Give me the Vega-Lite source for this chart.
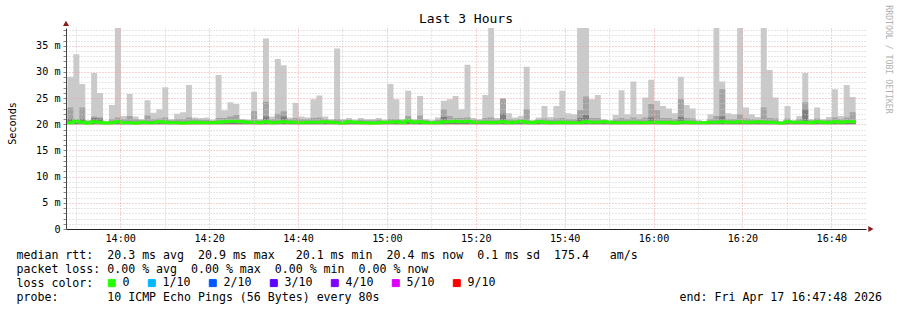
{
  "$schema": "https://vega.github.io/schema/vega-lite/v6.json",
  "width": 800,
  "height": 201,
  "autosize": {"type": "none"},
  "padding": {"left": 66, "top": 28, "right": 31, "bottom": 81},
  "background": "white",
  "config": {"view": {"stroke": null}, "font": "DejaVu Sans Mono"},
  "title": {"text": "Last 3 Hours", "font": "DejaVu Sans Mono", "fontSize": 13, "fontWeight": "normal", "color": "black", "anchor": "middle", "frame": "group", "baseline": "alphabetic", "offset": 0, "dy": 31},
  "datasets": {
    "smoke": [
      {"t":48.13,"lo":20.0,"hi":29.1,"mid":23.2,"dk":21.0,"med":20.3,"loss":"0"},
      {"t":49.47,"lo":20.0,"hi":33.4,"mid":21.0,"dk":20.8,"med":20.6,"loss":"0"},
      {"t":50.8,"lo":20.0,"hi":27.7,"mid":23.2,"dk":21.0,"med":20.4,"loss":"0"},
      {"t":52.13,"lo":20.0,"hi":20.8,"mid":20.7,"dk":20.4,"med":20.2,"loss":"0"},
      {"t":53.47,"lo":20.0,"hi":29.8,"mid":21.5,"dk":21.2,"med":20.5,"loss":"0"},
      {"t":54.8,"lo":20.0,"hi":26.0,"mid":21.3,"dk":21.1,"med":20.4,"loss":"0"},
      {"t":56.13,"lo":20.0,"hi":20.7,"mid":20.5,"dk":20.4,"med":20.2,"loss":"0"},
      {"t":57.47,"lo":20.0,"hi":23.7,"mid":21.0,"dk":20.5,"med":20.3,"loss":"0"},
      {"t":58.8,"lo":20.0,"hi":38.4,"mid":21.3,"dk":20.7,"med":20.5,"loss":"0"},
      {"t":60.13,"lo":20.0,"hi":21.6,"mid":21.0,"dk":20.5,"med":20.3,"loss":"0"},
      {"t":61.47,"lo":20.0,"hi":25.8,"mid":21.6,"dk":20.5,"med":20.3,"loss":"0"},
      {"t":62.8,"lo":20.0,"hi":21.5,"mid":21.0,"dk":20.4,"med":20.2,"loss":"0"},
      {"t":64.13,"lo":20.0,"hi":21.0,"mid":20.8,"dk":20.6,"med":20.4,"loss":"0"},
      {"t":65.47,"lo":20.0,"hi":24.6,"mid":21.7,"dk":20.5,"med":20.3,"loss":"0"},
      {"t":66.8,"lo":20.0,"hi":22.2,"mid":21.0,"dk":20.5,"med":20.3,"loss":"0"},
      {"t":68.13,"lo":20.0,"hi":22.9,"mid":21.1,"dk":20.7,"med":20.5,"loss":"0"},
      {"t":69.47,"lo":20.0,"hi":27.1,"mid":21.3,"dk":20.6,"med":20.4,"loss":"0"},
      {"t":70.8,"lo":20.0,"hi":21.0,"mid":20.8,"dk":20.5,"med":20.3,"loss":"0"},
      {"t":72.13,"lo":20.0,"hi":22.0,"mid":21.0,"dk":20.5,"med":20.3,"loss":"0"},
      {"t":73.47,"lo":20.0,"hi":22.3,"mid":21.0,"dk":20.4,"med":20.2,"loss":"0"},
      {"t":74.8,"lo":20.0,"hi":27.5,"mid":21.3,"dk":20.5,"med":20.3,"loss":"0"},
      {"t":76.13,"lo":20.0,"hi":21.3,"mid":21.0,"dk":20.6,"med":20.4,"loss":"0"},
      {"t":77.47,"lo":20.0,"hi":21.2,"mid":20.9,"dk":20.5,"med":20.3,"loss":"0"},
      {"t":78.8,"lo":20.0,"hi":21.3,"mid":20.9,"dk":20.5,"med":20.3,"loss":"0"},
      {"t":80.13,"lo":20.0,"hi":20.9,"mid":20.7,"dk":20.5,"med":20.3,"loss":"0"},
      {"t":81.47,"lo":20.0,"hi":29.4,"mid":21.2,"dk":20.6,"med":20.4,"loss":"0"},
      {"t":82.8,"lo":20.0,"hi":22.7,"mid":21.2,"dk":20.7,"med":20.5,"loss":"0"},
      {"t":84.13,"lo":20.0,"hi":24.2,"mid":21.5,"dk":20.8,"med":20.6,"loss":"0"},
      {"t":85.47,"lo":20.0,"hi":23.9,"mid":21.8,"dk":20.8,"med":20.6,"loss":"0"},
      {"t":86.8,"lo":20.0,"hi":21.0,"mid":20.9,"dk":20.7,"med":20.5,"loss":"0"},
      {"t":88.13,"lo":20.0,"hi":20.9,"mid":20.8,"dk":20.6,"med":20.4,"loss":"0"},
      {"t":89.47,"lo":20.0,"hi":26.2,"mid":22.5,"dk":20.6,"med":20.4,"loss":"0"},
      {"t":90.8,"lo":20.0,"hi":21.0,"mid":20.8,"dk":20.5,"med":20.3,"loss":"0"},
      {"t":92.13,"lo":20.0,"hi":36.4,"mid":24.3,"dk":21.5,"med":20.5,"loss":"0"},
      {"t":93.47,"lo":20.0,"hi":21.5,"mid":21.0,"dk":20.5,"med":20.3,"loss":"0"},
      {"t":94.8,"lo":20.0,"hi":32.5,"mid":22.0,"dk":20.6,"med":20.4,"loss":"0"},
      {"t":96.13,"lo":20.0,"hi":31.3,"mid":22.5,"dk":21.5,"med":20.5,"loss":"0"},
      {"t":97.47,"lo":20.0,"hi":21.3,"mid":21.0,"dk":20.6,"med":20.4,"loss":"0"},
      {"t":98.8,"lo":20.0,"hi":24.1,"mid":21.2,"dk":20.6,"med":20.4,"loss":"0"},
      {"t":100.13,"lo":20.0,"hi":21.5,"mid":21.0,"dk":20.5,"med":20.3,"loss":"0"},
      {"t":101.47,"lo":20.0,"hi":21.3,"mid":21.0,"dk":20.6,"med":20.4,"loss":"0"},
      {"t":102.8,"lo":20.0,"hi":24.8,"mid":21.2,"dk":20.6,"med":20.4,"loss":"0"},
      {"t":104.13,"lo":20.0,"hi":25.5,"mid":21.3,"dk":20.6,"med":20.4,"loss":"0"},
      {"t":105.47,"lo":20.0,"hi":21.5,"mid":21.0,"dk":20.7,"med":20.5,"loss":"0"},
      {"t":106.8,"lo":20.0,"hi":21.0,"mid":20.8,"dk":20.6,"med":20.4,"loss":"0"},
      {"t":108.13,"lo":20.0,"hi":34.5,"mid":21.0,"dk":20.5,"med":20.3,"loss":"0"},
      {"t":109.47,"lo":20.0,"hi":21.0,"mid":20.8,"dk":20.4,"med":20.2,"loss":"0"},
      {"t":110.8,"lo":20.0,"hi":21.2,"mid":20.9,"dk":20.7,"med":20.5,"loss":"0"},
      {"t":112.13,"lo":20.0,"hi":20.9,"mid":20.7,"dk":20.6,"med":20.4,"loss":"0"},
      {"t":113.47,"lo":20.0,"hi":21.2,"mid":20.9,"dk":20.5,"med":20.3,"loss":"0"},
      {"t":114.8,"lo":20.0,"hi":21.0,"mid":20.8,"dk":20.5,"med":20.3,"loss":"0"},
      {"t":116.13,"lo":20.0,"hi":21.0,"mid":20.8,"dk":20.4,"med":20.2,"loss":"0"},
      {"t":117.47,"lo":20.0,"hi":21.2,"mid":20.9,"dk":20.5,"med":20.3,"loss":"0"},
      {"t":118.8,"lo":20.0,"hi":20.9,"mid":20.7,"dk":20.6,"med":20.4,"loss":"0"},
      {"t":120.13,"lo":20.0,"hi":27.7,"mid":21.0,"dk":20.6,"med":20.4,"loss":"0"},
      {"t":121.47,"lo":20.0,"hi":24.8,"mid":21.0,"dk":20.7,"med":20.5,"loss":"0"},
      {"t":122.8,"lo":20.0,"hi":21.0,"mid":20.8,"dk":20.5,"med":20.3,"loss":"0"},
      {"t":124.13,"lo":20.0,"hi":26.4,"mid":21.6,"dk":20.9,"med":20.7,"loss":"0"},
      {"t":125.47,"lo":20.0,"hi":21.0,"mid":20.8,"dk":20.6,"med":20.4,"loss":"0"},
      {"t":126.8,"lo":20.0,"hi":25.4,"mid":21.7,"dk":20.7,"med":20.5,"loss":"0"},
      {"t":128.13,"lo":20.0,"hi":21.0,"mid":20.8,"dk":20.5,"med":20.3,"loss":"0"},
      {"t":129.47,"lo":20.0,"hi":20.8,"mid":20.7,"dk":20.5,"med":20.3,"loss":"0"},
      {"t":130.8,"lo":20.0,"hi":21.3,"mid":20.9,"dk":20.5,"med":20.3,"loss":"0"},
      {"t":132.13,"lo":20.0,"hi":24.5,"mid":22.9,"dk":21.4,"med":20.5,"loss":"0"},
      {"t":133.47,"lo":20.0,"hi":24.8,"mid":21.6,"dk":20.7,"med":20.5,"loss":"0"},
      {"t":134.8,"lo":20.0,"hi":25.4,"mid":21.2,"dk":20.8,"med":20.6,"loss":"0"},
      {"t":136.13,"lo":20.0,"hi":22.9,"mid":21.2,"dk":20.7,"med":20.5,"loss":"0"},
      {"t":137.47,"lo":20.0,"hi":31.4,"mid":21.3,"dk":20.8,"med":20.6,"loss":"0"},
      {"t":138.8,"lo":20.0,"hi":21.2,"mid":20.9,"dk":20.6,"med":20.4,"loss":"0"},
      {"t":140.13,"lo":20.0,"hi":21.0,"mid":20.8,"dk":20.6,"med":20.4,"loss":"0"},
      {"t":141.47,"lo":20.0,"hi":25.6,"mid":21.2,"dk":20.6,"med":20.4,"loss":"0"},
      {"t":142.8,"lo":20.0,"hi":38.4,"mid":21.3,"dk":20.5,"med":20.3,"loss":"0"},
      {"t":144.13,"lo":20.0,"hi":21.2,"mid":20.9,"dk":20.6,"med":20.4,"loss":"0"},
      {"t":145.47,"lo":20.0,"hi":25.0,"mid":24.9,"dk":22.0,"med":20.5,"loss":"0"},
      {"t":146.8,"lo":20.0,"hi":22.1,"mid":21.0,"dk":20.5,"med":20.3,"loss":"0"},
      {"t":148.13,"lo":20.0,"hi":21.3,"mid":20.9,"dk":20.6,"med":20.4,"loss":"0"},
      {"t":149.47,"lo":20.0,"hi":21.6,"mid":21.0,"dk":20.8,"med":20.6,"loss":"0"},
      {"t":150.8,"lo":20.0,"hi":31.0,"mid":22.9,"dk":20.6,"med":20.4,"loss":"0"},
      {"t":152.13,"lo":20.0,"hi":20.8,"mid":20.7,"dk":20.5,"med":20.3,"loss":"0"},
      {"t":153.47,"lo":20.0,"hi":21.3,"mid":20.9,"dk":20.7,"med":20.5,"loss":"0"},
      {"t":154.8,"lo":20.0,"hi":23.5,"mid":21.1,"dk":20.6,"med":20.4,"loss":"0"},
      {"t":156.13,"lo":20.0,"hi":21.4,"mid":20.9,"dk":20.5,"med":20.3,"loss":"0"},
      {"t":157.47,"lo":20.0,"hi":23.5,"mid":21.1,"dk":20.5,"med":20.3,"loss":"0"},
      {"t":158.8,"lo":20.0,"hi":26.4,"mid":21.2,"dk":20.6,"med":20.4,"loss":"0"},
      {"t":160.13,"lo":20.0,"hi":22.1,"mid":21.0,"dk":20.5,"med":20.3,"loss":"0"},
      {"t":161.47,"lo":20.0,"hi":21.9,"mid":21.0,"dk":20.5,"med":20.3,"loss":"0"},
      {"t":162.8,"lo":20.0,"hi":38.4,"mid":22.7,"dk":21.2,"med":20.3,"loss":"0"},
      {"t":164.13,"lo":20.0,"hi":38.4,"mid":25.3,"dk":21.8,"med":20.5,"loss":"0"},
      {"t":165.47,"lo":20.0,"hi":24.8,"mid":21.2,"dk":20.6,"med":20.4,"loss":"0"},
      {"t":166.8,"lo":20.0,"hi":25.6,"mid":21.2,"dk":20.6,"med":20.4,"loss":"0"},
      {"t":168.13,"lo":20.0,"hi":21.0,"mid":20.8,"dk":20.7,"med":20.5,"loss":"0"},
      {"t":169.47,"lo":20.0,"hi":20.8,"mid":20.7,"dk":20.6,"med":20.4,"loss":"0"},
      {"t":170.8,"lo":20.0,"hi":21.8,"mid":21.0,"dk":20.5,"med":20.3,"loss":"0"},
      {"t":172.13,"lo":20.0,"hi":26.5,"mid":21.2,"dk":20.5,"med":20.3,"loss":"0"},
      {"t":173.47,"lo":20.0,"hi":21.9,"mid":21.0,"dk":20.5,"med":20.3,"loss":"0"},
      {"t":174.8,"lo":20.0,"hi":28.2,"mid":21.3,"dk":20.6,"med":20.4,"loss":"0"},
      {"t":176.13,"lo":20.0,"hi":21.9,"mid":21.0,"dk":20.5,"med":20.3,"loss":"0"},
      {"t":177.47,"lo":20.0,"hi":25.1,"mid":21.3,"dk":20.5,"med":20.3,"loss":"0"},
      {"t":178.8,"lo":20.0,"hi":28.5,"mid":23.9,"dk":21.3,"med":20.4,"loss":"0"},
      {"t":180.13,"lo":20.0,"hi":24.5,"mid":22.7,"dk":20.6,"med":20.4,"loss":"0"},
      {"t":181.47,"lo":20.0,"hi":23.5,"mid":21.2,"dk":20.5,"med":20.3,"loss":"0"},
      {"t":182.8,"lo":20.0,"hi":23.0,"mid":21.2,"dk":20.6,"med":20.4,"loss":"0"},
      {"t":184.13,"lo":20.0,"hi":22.1,"mid":21.0,"dk":20.4,"med":20.2,"loss":"0"},
      {"t":185.47,"lo":20.0,"hi":29.1,"mid":24.8,"dk":21.4,"med":20.4,"loss":"0"},
      {"t":186.8,"lo":20.0,"hi":23.7,"mid":21.2,"dk":20.6,"med":20.4,"loss":"0"},
      {"t":188.13,"lo":20.0,"hi":23.0,"mid":21.1,"dk":20.5,"med":20.3,"loss":"0"},
      {"t":189.47,"lo":20.0,"hi":20.8,"mid":20.7,"dk":20.5,"med":20.3,"loss":"0"},
      {"t":190.8,"lo":20.0,"hi":20.5,"mid":20.5,"dk":20.5,"med":20.3,"loss":"0"},
      {"t":192.13,"lo":20.0,"hi":21.9,"mid":21.0,"dk":20.6,"med":20.4,"loss":"0"},
      {"t":193.47,"lo":20.0,"hi":38.4,"mid":21.6,"dk":20.6,"med":20.4,"loss":"0"},
      {"t":194.8,"lo":20.0,"hi":28.2,"mid":26.7,"dk":21.5,"med":20.5,"loss":"0"},
      {"t":196.13,"lo":20.0,"hi":22.1,"mid":21.0,"dk":20.6,"med":20.4,"loss":"0"},
      {"t":197.47,"lo":20.0,"hi":21.9,"mid":21.0,"dk":20.6,"med":20.4,"loss":"0"},
      {"t":198.8,"lo":20.0,"hi":38.4,"mid":21.9,"dk":20.7,"med":20.5,"loss":"0"},
      {"t":200.13,"lo":20.0,"hi":23.2,"mid":21.1,"dk":20.6,"med":20.4,"loss":"0"},
      {"t":201.47,"lo":20.0,"hi":21.9,"mid":21.0,"dk":20.6,"med":20.4,"loss":"0"},
      {"t":202.8,"lo":20.0,"hi":21.4,"mid":20.9,"dk":20.7,"med":20.5,"loss":"0"},
      {"t":204.13,"lo":20.0,"hi":38.4,"mid":23.2,"dk":20.6,"med":20.4,"loss":"0"},
      {"t":205.47,"lo":20.0,"hi":30.4,"mid":21.2,"dk":20.6,"med":20.4,"loss":"0"},
      {"t":206.8,"lo":20.0,"hi":25.1,"mid":21.1,"dk":20.5,"med":20.3,"loss":"0"},
      {"t":208.13,"lo":20.0,"hi":20.6,"mid":20.5,"dk":20.4,"med":20.2,"loss":"0"},
      {"t":209.47,"lo":20.0,"hi":23.5,"mid":21.1,"dk":20.7,"med":20.5,"loss":"0"},
      {"t":210.8,"lo":20.0,"hi":20.8,"mid":20.7,"dk":20.6,"med":20.4,"loss":"0"},
      {"t":212.13,"lo":20.0,"hi":21.6,"mid":21.0,"dk":20.6,"med":20.4,"loss":"0"},
      {"t":213.47,"lo":20.0,"hi":29.8,"mid":24.2,"dk":22.9,"med":20.4,"loss":"0"},
      {"t":214.8,"lo":20.0,"hi":21.0,"mid":20.8,"dk":20.5,"med":20.3,"loss":"0"},
      {"t":216.13,"lo":20.0,"hi":23.2,"mid":21.1,"dk":20.7,"med":20.5,"loss":"0"},
      {"t":217.47,"lo":20.0,"hi":21.0,"mid":20.8,"dk":20.6,"med":20.4,"loss":"0"},
      {"t":218.8,"lo":20.0,"hi":21.4,"mid":20.9,"dk":20.5,"med":20.3,"loss":"0"},
      {"t":220.13,"lo":20.0,"hi":26.7,"mid":21.3,"dk":20.7,"med":20.5,"loss":"0"},
      {"t":221.47,"lo":20.0,"hi":21.6,"mid":21.0,"dk":20.6,"med":20.4,"loss":"0"},
      {"t":222.8,"lo":20.0,"hi":27.5,"mid":21.3,"dk":20.7,"med":20.5,"loss":"0"},
      {"t":224.13,"lo":20.0,"hi":25.2,"mid":22.3,"dk":20.7,"med":20.5,"loss":"0"},
      {"t":225.47,"lo":20.0,"hi":25.2,"mid":22.3,"dk":20.7,"med":20.5,"loss":"0"}
    ]
  },
  "layer": [
    {
      "data": {"name": "smoke"},
      "mark": {"type": "area", "interpolate": "step-after", "color": "#cacaca", "opacity": 1},
      "encoding": {
        "x": {
          "field": "t", "type": "quantitative",
          "scale": {"domain": [47.8, 227.8], "nice": false, "zero": false},
          "axis": {
            "values": [50,55,60,65,70,75,80,85,90,95,100,105,110,115,120,125,130,135,140,145,150,155,160,165,170,175,180,185,190,195,200,205,210,215,220,225],
            "labelExpr": "datum.value % 20 == 0 ? (13 + floor(datum.value / 60)) + ':' + (datum.value % 60 == 0 ? '00' : datum.value % 60) : ''",
            "grid": true,
            "gridColor": {"condition": {"test": "datum.value % 20 == 0", "value": "#f0a0a0"}, "value": "#cccccc"},
            "gridDash": [1, 2],
            "gridWidth": 1,
            "ticks": false,
            "labelFont": "DejaVu Sans Mono", "labelFontSize": 10.15, "labelColor": "black", "labelPadding": 4,
            "labelFlush": false, "labelOverlap": false, "labelBound": false,
            "domainColor": "#222222", "domainWidth": 1,
            "zindex": 1,
            "title": [
              "median\u00a0rtt:\u00a0\u00a020.3\u00a0ms\u00a0avg\u00a0\u00a020.9\u00a0ms\u00a0max\u00a0\u00a0\u00a020.1\u00a0ms\u00a0min\u00a0\u00a020.4\u00a0ms\u00a0now\u00a0\u00a00.1\u00a0ms\u00a0sd\u00a0\u00a0175.4\u00a0\u00a0\u00a0am/s",
              "packet\u00a0loss:\u00a00.00\u00a0%\u00a0avg\u00a0\u00a00.00\u00a0%\u00a0max\u00a0\u00a00.00\u00a0%\u00a0min\u00a0\u00a00.00\u00a0%\u00a0now",
              "loss\u00a0color:",
              "probe:\u00a0\u00a0\u00a0\u00a0\u00a0\u00a0\u00a010\u00a0ICMP\u00a0Echo\u00a0Pings\u00a0(56\u00a0Bytes)\u00a0every\u00a080s\u00a0\u00a0\u00a0\u00a0\u00a0\u00a0\u00a0\u00a0\u00a0\u00a0\u00a0\u00a0\u00a0\u00a0\u00a0\u00a0\u00a0\u00a0\u00a0\u00a0\u00a0\u00a0\u00a0\u00a0\u00a0\u00a0\u00a0\u00a0\u00a0\u00a0\u00a0\u00a0\u00a0\u00a0\u00a0\u00a0\u00a0\u00a0\u00a0\u00a0\u00a0\u00a0\u00a0end:\u00a0Fri\u00a0Apr\u00a017\u00a016:47:48\u00a02026"
            ],
            "titleFont": "DejaVu Sans Mono", "titleFontSize": 11.6, "titleFontWeight": "normal", "titleColor": "black",
            "titleX": -50, "titleY": 29.7, "titleAlign": "left", "titleBaseline": "alphabetic", "titleAnchor": "start",
            "titleLineHeight": 14, "titleLimit": 2000
          }
        },
        "y": {
          "field": "lo", "type": "quantitative",
          "scale": {"domain": [0, 38.4], "nice": false, "zero": true},
          "axis": {
            "values": [0,1,2,3,4,5,6,7,8,9,10,11,12,13,14,15,16,17,18,19,20,21,22,23,24,25,26,27,28,29,30,31,32,33,34,35,36,37,38],
            "labelExpr": "datum.value % 5 == 0 ? (datum.value == 0 ? '0' : datum.value + ' m') : ''",
            "grid": true,
            "gridColor": {"condition": {"test": "datum.value % 5 == 0", "value": "#f0a0a0"}, "value": "#cccccc"},
            "gridDash": [1, 2],
            "ticks": true, "tickSize": 3, "tickColor": "#888888",
            "labelFont": "DejaVu Sans Mono", "labelFontSize": 10.15, "labelColor": "black", "labelPadding": 3,
            "labelOverlap": false, "labelBound": false,
            "domainColor": "#444444",
            "zindex": 1,
            "title": "Seconds",
            "titleFont": "DejaVu Sans Mono", "titleFontSize": 10.15, "titleFontWeight": "normal", "titleColor": "black",
            "titleX": -54, "titleY": 95, "titleAngle": 270, "titleAlign": "center", "titleBaseline": "middle"
          }
        },
        "y2": {"field": "hi"}
      }
    },
    {
      "data": {"name": "smoke"},
      "mark": {"type": "area", "interpolate": "step-after", "color": "#a4a4a4", "opacity": 1},
      "encoding": {
        "x": {"field": "t", "type": "quantitative"},
        "y": {"field": "lo", "type": "quantitative", "axis": null},
        "y2": {"field": "mid"}
      }
    },
    {
      "data": {"name": "smoke"},
      "mark": {"type": "area", "interpolate": "step-after", "color": "#7e7e7e", "opacity": 1},
      "encoding": {
        "x": {"field": "t", "type": "quantitative"},
        "y": {"field": "lo", "type": "quantitative", "axis": null},
        "y2": {"field": "dk"}
      }
    },
    {
      "data": {"name": "smoke"},
      "mark": {"type": "line", "interpolate": "step-after", "strokeWidth": 3},
      "encoding": {
        "x": {"field": "t", "type": "quantitative"},
        "y": {"field": "med", "type": "quantitative", "axis": null},
        "color": {
          "field": "loss", "type": "nominal",
          "scale": {"domain": ["0", "1/10", "2/10", "3/10", "4/10", "5/10", "9/10"], "range": ["#26ff00", "#00b8ff", "#0059ff", "#5e00ff", "#7e00ff", "#dd00ff", "#ff0000"]},
          "legend": {
            "orient": "none", "legendX": 40, "legendY": 249, "direction": "horizontal", "title": null,
            "symbolType": "square", "symbolSize": 49, "symbolStrokeWidth": 1, "symbolStrokeColor": "black",
            "labelFont": "DejaVu Sans Mono", "labelFontSize": 11.6, "labelColor": "black", "labelOffset": 5,
            "columnPadding": 16, "padding": 0,
            "encode": {"symbols": {"update": {"fill": {"scale": "color", "field": "value"}, "fillOpacity": {"value": 1}, "stroke": {"value": "#333333"}, "strokeWidth": {"value": 1}}}}
          }
        }
      }
    },
    {
      "data": {"values": [{}]},
      "mark": {"type": "point", "shape": "triangle-up", "filled": true, "size": 36, "color": "#8b1a1a", "opacity": 1, "clip": false},
      "encoding": {
        "x": {"datum": 47.8, "type": "quantitative"},
        "y": {
          "datum": 39.3, "type": "quantitative",
          "axis": {
            "orient": "right", "domain": false, "ticks": false, "labels": false, "grid": false,
            "title": "RRDTOOL / TOBI OETIKER", "titleAngle": 90, "titleX": 21, "titleY": 31,
            "titleAlign": "center", "titleBaseline": "middle", "titleColor": "#b0b0b0",
            "titleFont": "DejaVu Sans Mono", "titleFontSize": 8.2, "titleFontWeight": "normal"
          }
        }
      }
    },
    {
      "data": {"values": [{}]},
      "mark": {"type": "point", "shape": "triangle-right", "filled": true, "size": 36, "color": "#8b1a1a", "opacity": 1, "clip": false},
      "encoding": {
        "x": {"datum": 228.9, "type": "quantitative"},
        "y": {"datum": 0, "type": "quantitative", "axis": null}
      }
    }
  ],
  "resolve": {"axis": {"y": "independent"}}
}
